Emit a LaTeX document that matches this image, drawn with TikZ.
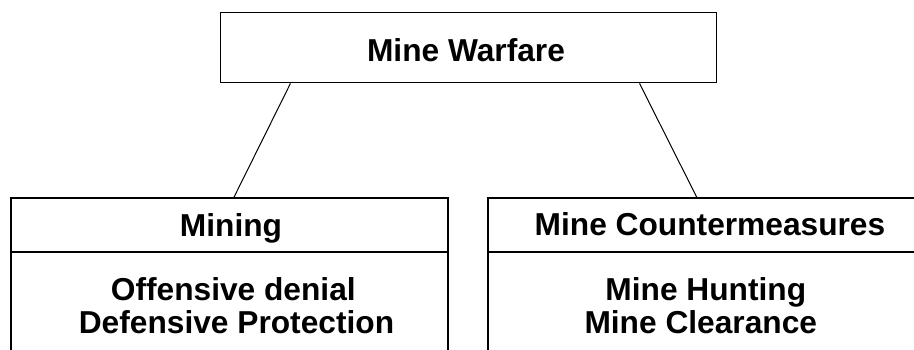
\documentclass[tikz,border=0pt]{standalone}
\usepackage{fontspec}
\setmainfont{Liberation Sans}
\usetikzlibrary{calc}
\tikzset{
  boxframe/.style={draw=black, line width=1.5pt, rectangle, inner sep=0pt, minimum width=437pt},
  lbl/.style={font=\fontsize{31.7}{32.7}\selectfont\bfseries, inner sep=0pt, anchor=base},
  link/.style={draw=black, line width=1pt}
}
\begin{document}
\begin{tikzpicture}[x=1pt,y=-1pt]
\useasboundingbox (0,0) rectangle (914,349);
\clip (0,0) rectangle (914,349);
% top box
\node[boxframe, minimum width=496pt, minimum height=70.4pt] (top) at (468.7,47.5) {};
\node[lbl] (ttop) at (466,61) {Mine Warfare};
% left column
\node[boxframe, minimum height=53.7pt] (lhead) at (229.5,225) {};
\node[boxframe, minimum height=120pt] (lbody) at (229.5,311.8) {};
\node[lbl] (tmin) at (231,236.5) {Mining};
\node[lbl] (toff) at (233.3,300.7) {Offensive denial};
\node[lbl] (tdef) at (236.5,333.3) {Defensive Protection};
% right column
\node[boxframe, minimum height=53.7pt] (rhead) at (706.5,225) {};
\node[boxframe, minimum height=120pt] (rbody) at (706.5,311.8) {};
\node[lbl] (tmcm) at (710,235.5) {Mine Countermeasures};
\node[lbl] (thun) at (705.8,300.7) {Mine Hunting};
\node[lbl] (tcle) at (700.8,333.3) {Mine Clearance};
% connectors
\draw[link] ($(top.south west)!0.1417!(top.south east)$) -- ($(lhead.north west)!0.510!(lhead.north east)$);
\draw[link] ($(top.south west)!0.8434!(top.south east)$) -- ($(rhead.north west)!0.478!(rhead.north east)$);
\end{tikzpicture}
\end{document}
